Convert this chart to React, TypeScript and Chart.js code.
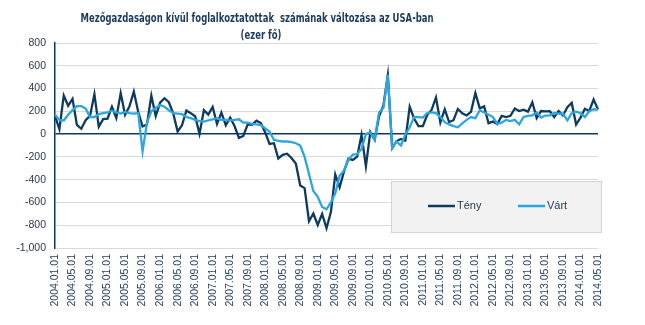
import React, { useEffect, useRef } from "react";
import { Chart, registerables } from "chart.js";

Chart.register(...registerables);

const titleLine1 = "Mezőgazdaságon kívül foglalkoztatottak  számának változása az USA-ban";
const titleLine2 = "(ezer fő)";

const startYear = 2004;
const monthCount = 125; // 2004.01 .. 2014.05
const categories: string[] = [];
for (let i = 0; i < monthCount; i++) {
  const y = startYear + Math.floor(i / 12);
  const m = (i % 12) + 1;
  categories.push(`${y}.${m < 10 ? "0" + m : m}.01`);
}

const teny = [
  159, 43, 338, 249, 310, 81, 47, 122, 160, 351, 64, 132,
  136, 240, 142, 360, 170, 243, 373, 196, 67, 84, 337, 159,
  277, 315, 280, 182, 23, 77, 207, 184, 157, 2, 210, 171,
  238, 88, 188, 78, 144, 71, -33, -16, 85, 82, 118, 97,
  15, -86, -80, -214, -182, -172, -210, -259, -452, -474, -765, -697,
  -798, -701, -826, -684, -354, -467, -327, -216, -227, -198, -6, -283,
  18, -50, 156, 251, 516, -122, -61, -42, -57, 241, 137, 71,
  70, 168, 212, 322, 102, 217, 106, 122, 221, 183, 164, 196,
  360, 226, 243, 96, 110, 88, 160, 150, 161, 225, 203, 214,
  197, 280, 141, 203, 199, 201, 149, 202, 164, 237, 274, 84,
  144, 222, 203, 304, 217,
];

const vart = [
  170, 125, 120, 170, 210, 245, 245, 225, 150, 150, 175, 185,
  190, 205, 190, 180, 195, 185, 180, 185, -150, 100, 200, 230,
  255, 240, 210, 185, 180, 175, 150, 140, 125, 115, 110, 120,
  130, 140, 125, 125, 120, 125, 130, 100, 100, 90, 85, 80,
  50, 20, -50, -60, -65, -65, -70, -80, -100, -200, -350, -500,
  -550, -640, -660, -600, -520, -365, -320, -225, -180, -175, -130, 0,
  15, -50, 190, 230, 520, -120, -65, -100, -5, 60, 150, 150,
  145, 185, 190, 185, 150, 105, 85, 70, 60, 95, 125, 150,
  140, 210, 190, 170, 150, 90, 100, 125, 115, 125, 85, 150,
  160, 165, 190, 145, 163, 165, 185, 180, 180, 120, 183, 197,
  185, 150, 200, 218, 215,
];

const seriesNames = ["Tény", "Várt"];
const yMin = -1000;
const yMax = 800;
const yStep = 200;
const labelEvery = 4;

const NAVY = "#0E3A5E";
const LIGHT = "#2BA6DE";
const GRID = "#D9D9D9";
const TEXT = "#2B3A4A";

const titlePlugin = {
  id: "customTitle",
  afterDraw(chart: any) {
    const ctx = chart.ctx;
    ctx.save();
    ctx.fillStyle = "#1B3A5C";
    ctx.textAlign = "center";
    ctx.textBaseline = "middle";
    ctx.font = "bold 12px 'Liberation Sans Narrow', 'DejaVu Sans Condensed', 'Liberation Sans', sans-serif";
    const w1 = ctx.measureText(titleLine1).width;
    const s1 = 353 / w1;
    ctx.save();
    ctx.translate(257, 19);
    ctx.scale(s1, 1);
    ctx.fillText(titleLine1, 0, 0);
    ctx.restore();
    ctx.save();
    ctx.translate(261, 36);
    ctx.scale(s1, 1);
    ctx.fillText(titleLine2, 0, 0);
    ctx.restore();
    ctx.restore();
  },
};

const legendPlugin = {
  id: "customLegend",
  afterDraw(chart: any) {
    const ctx = chart.ctx;
    ctx.save();
    ctx.fillStyle = "#F2F2F2";
    ctx.strokeStyle = "#D4D4D4";
    ctx.lineWidth = 1;
    ctx.fillRect(391, 181, 210, 51);
    ctx.strokeRect(391.5, 181.5, 210, 51);
    const items = [
      { name: seriesNames[0], color: NAVY, x: 428 },
      { name: seriesNames[1], color: LIGHT, x: 518 },
    ];
    ctx.font = "11px 'Liberation Sans', Arial, sans-serif";
    ctx.textBaseline = "middle";
    ctx.textAlign = "left";
    for (const it of items) {
      ctx.strokeStyle = it.color;
      ctx.lineWidth = 2.5;
      ctx.beginPath();
      ctx.moveTo(it.x, 206);
      ctx.lineTo(it.x + 27, 206);
      ctx.stroke();
      ctx.fillStyle = TEXT;
      ctx.fillText(it.name, it.x + 29, 206);
    }
    ctx.restore();
  },
};

export default function App() {
  const ref = useRef<HTMLCanvasElement | null>(null);
  useEffect(() => {
    if (!ref.current) return;
    const chart = new Chart(ref.current, {
      type: "line",
      data: {
        labels: categories,
        datasets: [
          {
            label: seriesNames[0],
            data: teny,
            borderColor: NAVY,
            backgroundColor: NAVY,
            borderWidth: 2.3,
            pointRadius: 0,
            tension: 0,
            order: 1,
          },
          {
            label: seriesNames[1],
            data: vart,
            borderColor: LIGHT,
            backgroundColor: LIGHT,
            borderWidth: 2.3,
            pointRadius: 0,
            tension: 0,
            order: 0,
          },
        ],
      },
      options: {
        responsive: false,
        animation: false,
        events: [],
        layout: { padding: { top: 43, right: 47, left: 0, bottom: 0 } },
        plugins: {
          legend: { display: false },
          title: { display: false },
          tooltip: { enabled: false },
        },
        scales: {
          x: {
            type: "category",
            offset: false,
            grid: { display: false, drawTicks: false },
            border: { display: false },
            ticks: {
              autoSkip: false,
              maxRotation: 90,
              minRotation: 90,
              padding: 6,
              color: "#1F3A5F",
              font: { family: "'Liberation Sans', Arial, sans-serif", size: 10.5 },
              callback: (_v: any, i: number) => (i % labelEvery === 0 ? categories[i] : ""),
            },
            afterFit: (s: any) => {
              s.height = 77;
            },
          },
          y: {
            min: yMin,
            max: yMax,
            ticks: {
              stepSize: yStep,
              padding: 9,
              color: TEXT,
              font: { family: "'Liberation Sans', Arial, sans-serif", size: 10.5 },
            },
            grid: {
              drawTicks: false,
              color: (c: any) => (c.tick && c.tick.value === 0 ? NAVY : GRID),
              lineWidth: (c: any) => (c.tick && c.tick.value === 0 ? 1.5 : 1),
            },
            border: { display: true, color: NAVY, width: 1.5 },
            afterFit: (s: any) => {
              s.width = 55;
            },
          },
        },
      },
      plugins: [titlePlugin, legendPlugin],
    });
    return () => chart.destroy();
  }, []);
  return (
    <div style={{ position: "absolute", left: 0, top: 0, width: 645, height: 325, background: "#fff" }}>
      <canvas ref={ref} width={645} height={325} style={{ display: "block" }} />
    </div>
  );
}
